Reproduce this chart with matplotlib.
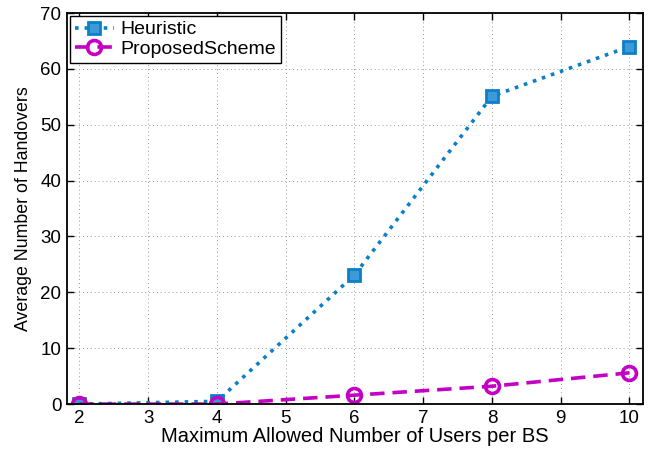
import matplotlib

matplotlib.use("Agg")
import matplotlib.pyplot as plt

BLUE, MAGENTA = "#0a80c8", "#c400c4"

users = [2, 4, 6, 8, 10]
heuristic = [0.0, 0.5, 23.1, 55.1, 64.0]
proposed = [0.0, 0.0, 1.6, 3.2, 5.6]

plt.rcParams["font.family"] = ["Liberation Sans", "DejaVu Sans"]

fig = plt.figure(figsize=(6.57, 4.49), dpi=100)
ax = fig.add_axes([0.102, 0.100, 0.877, 0.871])

ax.plot(users, heuristic, ls=":", lw=2.6, color=BLUE, marker="s", ms=9,
        mfc="#3d9ad6", mec=BLUE, mew=2.0, label="Heuristic")
ax.plot(users, proposed, ls="--", lw=2.6, dashes=(4, 2.2), color=MAGENTA,
        marker="o", ms=10, mfc="none", mec=MAGENTA, mew=2.6,
        label="ProposedScheme")

ax.set_xlim(1.82, 10.2)
ax.set_ylim(0, 70)
ax.set_xticks(range(2, 11))
ax.set_yticks(range(0, 71, 10))
ax.tick_params(direction="in", length=5, width=1.0, labelsize=13.5,
               top=True, right=True, pad=4)
ax.grid(True, ls=(0, (1, 3)), lw=0.7, color="#999999")
for s in ax.spines.values():
    s.set_linewidth(1.3)

ax.set_xlabel("Maximum Allowed Number of Users per BS", fontsize=14.5, labelpad=0)
ax.set_ylabel("Average Number of Handovers", fontsize=12.8, labelpad=6)

leg = ax.legend(loc="upper left", fontsize=14, fancybox=False,
                edgecolor="black", framealpha=1, borderaxespad=0.15,
                handlelength=2.0, borderpad=0.25, labelspacing=0.1,
                handletextpad=0.35)
leg.get_frame().set_linewidth(1.0)

fig.savefig("out.png", dpi=100, facecolor="white")
